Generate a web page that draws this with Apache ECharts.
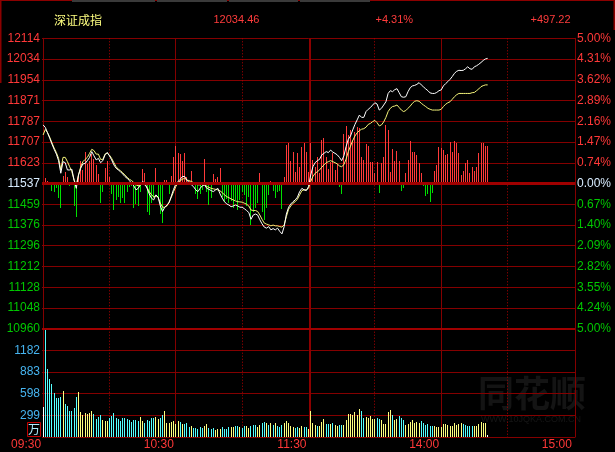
<!DOCTYPE html>
<html><head><meta charset="utf-8">
<script src="https://cdn.jsdelivr.net/npm/echarts@6/dist/echarts.min.js"></script>
<style>html,body{margin:0;padding:0;background:#000;}#c{width:615px;height:452px;}</style>
</head><body><div id="c"></div>
<script>
// ---------------- data ----------------
const indexName = '深证成指';
const prevClose = 11537.24;
const headerTexts = ['12034.46', '+4.31%', '+497.22'];
const priceLabels = ['10960','11048','11128','11212','11296','11376','11459','11537','11623','11707','11787','11871','11954','12034','12114'];
const pctLabels = ['5.00%','4.24%','3.55%','2.82%','2.09%','1.40%','0.67%','0.00%','0.74%','1.47%','2.16%','2.89%','3.62%','4.31%','5.00%'];
const volLabels = ['', '299', '598', '883', '1182', ''];
const volUnit = '万';
const volTop = 1477.5;
const shownTimes = [0, 60, 120, 180, 240];
const dottedTimes = [30, 90, 150, 210];     // 10:00 11:00 13:30 14:30
const solidTimes = [60, 180];               // 10:30 14:00
const middayBreak = [120.5];                // 11:30 / 13:00 boundary

// index price per minute
const priceLine = [
11770,11760,11739,11717,11694,11673,11654,11628,11578,11624,
11620,11591,11591,11594,11551,11518,11571,11598,11615,11617,
11628,11641,11664,11647,11631,11637,11620,11628,11651,11661,
11647,11631,11611,11598,11591,11584,11575,11565,11558,11549,
11538,11528,11512,11518,11532,11545,11538,11518,11496,11479,
11472,11492,11483,11448,11426,11443,11452,11461,11488,11514,
11535,11545,11554,11565,11565,11551,11541,11532,11525,11512,
11505,11518,11528,11532,11518,11514,11509,11505,11512,11518,
11496,11479,11465,11456,11452,11445,11448,11452,11448,11443,
11443,11437,11430,11422,11395,11412,11416,11412,11393,11377,
11364,11360,11366,11353,11358,11353,11360,11347,11337,11366,
11416,11443,11456,11465,11472,11483,11505,11518,11512,11509,
11525,11571,11604,11620,11628,11633,11651,11657,11664,11660,
11670,11662,11657,11651,11641,11628,11647,11684,11713,11726,
11750,11772,11790,11809,11800,11800,11823,11832,11839,11849,
11858,11853,11829,11836,11849,11862,11895,11906,11902,11910,
11914,11898,11882,11880,11882,11902,11918,11925,11927,11931,
11938,11929,11921,11913,11906,11897,11895,11895,11899,11906,
11909,11925,11934,11942,11951,11962,11975,11983,11987,11986,
11987,11993,12001,11993,11991,12001,12005,12011,12018,12026,
12032,12034.46];

// yellow (average) line per minute
const avgLine = [
11730,11752,11739,11721,11699,11678,11660,11637,11591,11641,
11641,11624,11604,11584,11551,11532,11571,11604,11624,11633,
11641,11657,11673,11668,11654,11654,11633,11633,11654,11657,
11650,11637,11620,11604,11594,11588,11580,11571,11562,11554,
11549,11541,11532,11528,11532,11535,11532,11522,11505,11492,
11485,11488,11483,11459,11443,11443,11448,11465,11483,11505,
11525,11538,11549,11554,11558,11551,11549,11545,11541,11536,
11532,11532,11536,11532,11525,11522,11518,11516,11514,11512,
11508,11501,11492,11485,11481,11476,11472,11468,11465,11464,
11463,11459,11455,11448,11432,11430,11430,11426,11412,11395,
11380,11376,11373,11369,11372,11369,11369,11366,11364,11373,
11406,11435,11448,11459,11465,11475,11492,11509,11512,11512,
11518,11545,11565,11578,11584,11591,11602,11611,11620,11624,
11628,11624,11620,11615,11607,11604,11612,11634,11664,11686,
11708,11726,11739,11747,11753,11755,11761,11772,11776,11783,
11788,11779,11766,11770,11782,11800,11823,11836,11843,11845,
11849,11839,11829,11823,11827,11836,11845,11856,11864,11866,
11864,11856,11849,11843,11836,11832,11829,11829,11829,11829,
11832,11843,11852,11858,11862,11872,11882,11890,11895,11895,
11895,11895,11895,11895,11898,11899,11906,11913,11922,11926,
11929,11929];

// buy/sell strength bars (in grid units)
const strength = [
0,0.25,0.1,-0.08,-0.35,-0.4,-0.24,-0.72,-1.2,0.35,
0.55,0.3,-0.1,-0.08,-1.1,-1.6,0.35,1.1,0.65,1.5,
0.95,1.1,1.4,1.2,0.9,0.45,-0.95,-0.4,0.73,1.1,
0.3,-0.5,-1.3,-0.8,-0.65,-0.95,-0.7,-0.95,-0.4,-0.15,
-0.1,-1.2,-1.0,-1.1,-0.4,0.7,0.5,-1.35,-1.5,-0.95,
-0.7,0.73,-0.7,-1.45,-1.9,0.15,0.15,-0.5,0.35,1.3,
1.8,1.45,1.4,1.1,1.45,0.3,0.1,0.6,0,-0.5,
-0.75,-0.5,-0.3,1.2,-0.4,-1.05,-0.7,0.45,0.2,0.3,
0.73,-0.65,-0.9,-0.75,-0.95,-0.85,-1.2,-0.8,-1.3,-0.8,
-0.4,-0.55,-1.1,-0.65,-2.0,-1.35,-1.2,-0.95,0.5,-1.35,
-1.75,-1.2,-0.55,0.1,-0.35,-0.7,-0.4,-0.35,-1.25,0.3,
1.85,1.97,1.1,1.5,0.55,1.45,0.8,1.75,1.95,1.5,
0.55,1.95,1.15,0.8,1.3,0.5,2.1,2.2,1.3,0.7,
1.05,1.45,0.65,0.95,-0.15,-0.5,2.4,2.77,2.35,2.6,
2.1,2.5,2.7,2.66,1.3,1.13,1.9,1.8,1.02,1.05,
0.5,1.05,-0.45,1.0,1.3,2.8,2.6,0.55,1.66,1.1,
1.58,1.1,-0.34,-0.2,0.5,1.13,2.05,1.54,1.5,1.38,
1.0,0.5,-0.1,-0.6,-0.5,-0.88,-0.45,0.6,0.9,1.75,
1.7,1.6,1.38,1.42,2.0,1.5,2.05,1.95,1.45,0.4,
0.6,1.0,1.13,0.5,0.8,0.6,0.8,1.45,1.95,1.95,
1.8,1.8];

// volume per minute (万)
const volume = [
409,1470,927,791,723,605,532,532,545,627,
450,423,355,355,395,545,614,341,300,327,
314,327,355,314,245,273,300,232,218,218,
259,286,327,259,245,218,259,259,245,232,
205,232,232,218,273,218,191,232,218,259,
259,273,245,259,300,355,191,191,205,218,
177,218,205,177,177,191,136,150,123,123,
109,136,123,150,177,123,109,123,95,109,
109,136,109,109,136,136,136,150,150,136,
123,150,150,123,150,164,164,136,164,191,
205,191,164,191,164,191,150,136,164,191,
218,191,150,136,123,136,123,150,136,136,
109,355,191,164,150,150,205,245,177,177,
177,191,164,150,164,164,164,232,314,314,
300,341,300,382,355,259,273,259,286,245,
245,259,245,232,177,177,341,368,300,232,
245,286,259,232,164,177,205,232,191,205,
191,218,191,164,177,150,150,150,136,136,
136,177,177,164,150,150,191,164,177,191,
177,164,150,150,150,150,150,177,205,191,
191,27];

// volume bar direction: 0 down, 1 up, 2 neutral
const volDir = [
2,0,0,0,0,0,0,0,0,1, 0,0,0,0,0,0,1,1,1,1, 1,1,1,0,0,0,0,1,1,1, 0,0,0,0,0,0,0,0,0,0,
0,0,0,0,1,1,0,0,0,0, 0,1,1,0,0,1,1,1,1,1, 1,1,0,1,0,0,0,1,0,0, 0,0,0,1,1,0,0,0,1,1,
1,0,0,0,0,1,1,0,0,1, 0,0,1,1,0,0,0,1,1,0, 0,1,0,1,0,1,0,0,0,1, 1,1,1,1,0,0,1,1,0,0,
1,1,1,1,0,1,1,1,0,0, 1,0,1,1,0,0,1,1,1,1, 1,1,1,1,0,0,1,1,1,1, 1,0,0,1,1,1,1,1,0,1,
1,0,0,0,1,1,1,1,1,1, 1,0,0,0,0,0,0,1,1,1, 1,1,1,1,1,1,1,1,1,1, 0,0,0,0,0,1,1,1,1,1,
1,2];

// time slots: 09:30-11:30, 13:01-15:00
const times = [];
function hhmm(t){const h=Math.floor(t/60),m=t%60;return (h<10?'0':'')+h+':'+(m<10?'0':'')+m;}
for (let t = 570; t <= 690; t++) times.push(hhmm(t));
for (let t = 781; t <= 900; t++) times.push(hhmm(t));

// ---------------- styles ----------------
const GRID = '#840000';
const RED = '#ff3838';
const GREEN = '#00c800';
const NEUTRAL = '#d8ecff';
const VOLBLUE = '#46b4f0';
const FONT = 'Liberation Sans';
const dirColors = ['#55ffff', '#ffff80', '#ffffff'];

// crisp 1px bars, positioned through the axes
function crispBar(colorOf) {
  return function (params, api) {
    const i = api.value(0), v = api.value(1);
    const b = api.coord([i, 0]);
    const t = api.coord([i, v]);
    const x = Math.floor(b[0]);
    const y0 = Math.round(Math.min(b[1], t[1]));
    const y1 = Math.round(Math.max(b[1], t[1]));
    return {type: 'rect', shape: {x: x, y: y0, width: 1, height: Math.max(0, y1 - y0)},
            style: {fill: colorOf(params.dataIndex, v)}};
  };
}
// crisp vertical grid line, positioned through the value x axis
function vLine(kind) {
  return function (params, api) {
    const cs = params.coordSys;
    const p = api.coord([api.value(0), 0]);
    if (kind === 'break') {
      const x = Math.round(p[0]);
      return {type: 'rect', shape: {x: x - 1, y: cs.y, width: 2, height: cs.height}, style: {fill: '#8c0000'}};
    }
    const x = Math.floor(p[0]) + 0.5;
    return {type: 'line', shape: {x1: x, y1: cs.y, x2: x, y2: cs.y + cs.height},
            style: {stroke: kind === 'dot' ? '#b00000' : GRID, lineWidth: 1, lineDash: kind === 'dot' ? [1, 2] : null}};
  };
}
function vSeries(xIdx, yIdx) {
  return [
    {type: 'custom', xAxisIndex: xIdx, yAxisIndex: yIdx, z: 1, silent: true, clip: false,
     data: dottedTimes.map(t => [t]), renderItem: vLine('dot'), encode: {x: 0}},
    {type: 'custom', xAxisIndex: xIdx, yAxisIndex: yIdx, z: 1, silent: true, clip: false,
     data: solidTimes.map(t => [t]), renderItem: vLine('solid'), encode: {x: 0}},
    {type: 'custom', xAxisIndex: xIdx, yAxisIndex: yIdx, z: 1, silent: true, clip: false,
     data: middayBreak.map(t => [t]), renderItem: vLine('break'), encode: {x: 0}}
  ];
}

const chart = echarts.init(document.getElementById('c'), null, {renderer: 'canvas'});
const option = {
  backgroundColor: '#000',
  animation: false,
  grid: [
    {left: 42, right: 40, top: 38.3, height: 290.4, outerBoundsMode: 'none'},
    {left: 42, right: 40, top: 328.7, height: 108.3, outerBoundsMode: 'none'}
  ],
  xAxis: [
    {type: 'category', gridIndex: 0, data: times, boundaryGap: true,
     axisLine: {show: false}, axisTick: {show: false}, axisLabel: {show: false}, splitLine: {show: false}},
    {type: 'value', gridIndex: 0, min: -0.5, max: 240.5, show: false},
    {type: 'category', gridIndex: 1, data: times, boundaryGap: true,
     axisLine: {show: false}, axisTick: {show: false}, splitLine: {show: false},
     axisLabel: {show: true, interval: (idx) => shownTimes.indexOf(idx) >= 0, align: 'right',
                 margin: 2, padding: [0, 2, 0, 0], color: RED, fontSize: 12, fontFamily: FONT}},
    {type: 'value', gridIndex: 1, min: -0.5, max: 240.5, show: false}
  ],
  yAxis: [
    {type: 'value', gridIndex: 0, min: -7, max: 7, interval: 1, position: 'left',
     axisLine: {show: true, lineStyle: {color: GRID, width: 1}}, axisTick: {show: false},
     splitLine: {show: true, lineStyle: {color: GRID, width: 1}},
     axisLabel: {margin: 2, fontSize: 12, fontFamily: FONT,
       formatter: (v) => priceLabels[Math.round(v) + 7],
       color: (v) => { v = Number(v); return v > 0.01 ? RED : (v < -0.01 ? GREEN : NEUTRAL); }}},
    {type: 'value', gridIndex: 0, min: -7, max: 7, interval: 1, position: 'right',
     axisLine: {show: true, lineStyle: {color: GRID, width: 1}}, axisTick: {show: false},
     splitLine: {show: false},
     axisLabel: {margin: 2, fontSize: 12, fontFamily: FONT,
       formatter: (v) => pctLabels[Math.round(v) + 7],
       color: (v) => { v = Number(v); return v > 0.01 ? RED : (v < -0.01 ? GREEN : NEUTRAL); }}},
    {type: 'value', gridIndex: 0, min: prevClose * 0.95, max: prevClose * 1.05, show: false},
    {type: 'value', gridIndex: 1, min: 0, max: 5, interval: 1, position: 'left',
     axisLine: {show: true, lineStyle: {color: GRID, width: 1}}, axisTick: {show: false},
     splitLine: {show: true, lineStyle: {color: GRID, width: 1}},
     axisLabel: {margin: 2, fontSize: 12, fontFamily: FONT, color: VOLBLUE,
       formatter: (v) => volLabels[Math.round(v)]}},
    {type: 'value', gridIndex: 1, min: 0, max: 5, interval: 1, position: 'right',
     axisLine: {show: true, lineStyle: {color: GRID, width: 1}}, axisTick: {show: false},
     splitLine: {show: false}, axisLabel: {show: false}},
    {type: 'value', gridIndex: 1, min: 0, max: volTop, show: false}
  ],
  series: [].concat(
    vSeries(1, 0),
    vSeries(3, 3),
    [
    {type: 'line', xAxisIndex: 1, yAxisIndex: 0, data: [], z: 2,
     markLine: {symbol: 'none', silent: true, label: {show: false}, animation: false,
       data: [{yAxis: 0, lineStyle: {type: 'solid', color: '#a00000', width: 3}},
              {yAxis: -7, lineStyle: {type: 'solid', color: '#a00000', width: 2}}]}},
    {type: 'custom', xAxisIndex: 0, yAxisIndex: 0, z: 2, silent: true,
     data: strength.map((v, i) => [i, v]), encode: {x: 0, y: 1},
     renderItem: crispBar((i, v) => v >= 0 ? '#ff3a3a' : '#00e000')},
    {type: 'line', xAxisIndex: 0, yAxisIndex: 2, data: avgLine, showSymbol: false, symbol: 'none', z: 3,
     lineStyle: {color: '#f4f47a', width: 1}},
    {type: 'line', xAxisIndex: 0, yAxisIndex: 2, data: priceLine, showSymbol: false, symbol: 'none', z: 4,
     lineStyle: {color: '#ffffff', width: 1}},
    {type: 'custom', xAxisIndex: 2, yAxisIndex: 5, z: 2, silent: true,
     data: volume.map((v, i) => [i, v]), encode: {x: 0, y: 1},
     renderItem: crispBar((i) => dirColors[volDir[i]])}
    ]
  ),
  graphic: [
    {type: 'rect', z: 10, shape: {x: 0, y: 0, width: 615, height: 1}, style: {fill: '#8c0000'}},
    {type: 'rect', z: 11, shape: {x: 72, y: 0, width: 83, height: 2}, style: {fill: '#3a3a3a'}},
    {type: 'rect', z: 11, shape: {x: 157, y: 0, width: 70, height: 2}, style: {fill: '#3a3a3a'}},
    {type: 'rect', z: 11, shape: {x: 229, y: 0, width: 69, height: 2}, style: {fill: '#3a3a3a'}},
    {type: 'rect', z: 11, shape: {x: 300, y: 0, width: 70, height: 2}, style: {fill: '#3a3a3a'}},
    {type: 'rect', z: 10, shape: {x: 0, y: 0, width: 1.5, height: 83}, style: {fill: '#8c0000'}},
    {type: 'rect', z: 10, shape: {x: 613.5, y: 0, width: 1.5, height: 30}, style: {fill: '#8c0000'}},
    {type: 'text', z: 10, style: {text: indexName, x: 54, y: 20, verticalAlign: 'middle', align: 'left',
      fill: '#ffff80', font: '12px "Noto Sans CJK SC"'}},
    {type: 'text', z: 10, style: {text: headerTexts[0], x: 213.5, y: 20, verticalAlign: 'middle', align: 'left',
      fill: '#ff3c3c', font: '11px "Liberation Sans"'}},
    {type: 'text', z: 10, style: {text: headerTexts[1], x: 375.5, y: 20, verticalAlign: 'middle', align: 'left',
      fill: '#ff3c3c', font: '11px "Liberation Sans"'}},
    {type: 'text', z: 10, style: {text: headerTexts[2], x: 530.5, y: 20, verticalAlign: 'middle', align: 'left',
      fill: '#ff3c3c', font: '11px "Liberation Sans"'}},
    {type: 'rect', z: 10, shape: {x: 27.5, y: 422.5, width: 13, height: 14}, style: {fill: 'none', stroke: '#c00000', lineWidth: 1}},
    {type: 'text', z: 10, style: {text: volUnit, x: 34, y: 429.5, verticalAlign: 'middle', align: 'center',
      fill: '#b0ecff', font: '12px "Noto Sans CJK SC"'}},
    {type: 'text', z: 0, style: {text: '同花顺', x: 532, y: 393, verticalAlign: 'middle', align: 'center',
      fill: '#141414', font: 'bold 36px "Noto Sans CJK SC"'}},
    {type: 'text', z: 0, style: {text: 'WWW.10JQKA.COM.CN', x: 531, y: 420, verticalAlign: 'middle', align: 'center',
      fill: '#161616', font: '9px "Liberation Sans"'}}
  ]
};
chart.setOption(option);
</script>
</body></html>
